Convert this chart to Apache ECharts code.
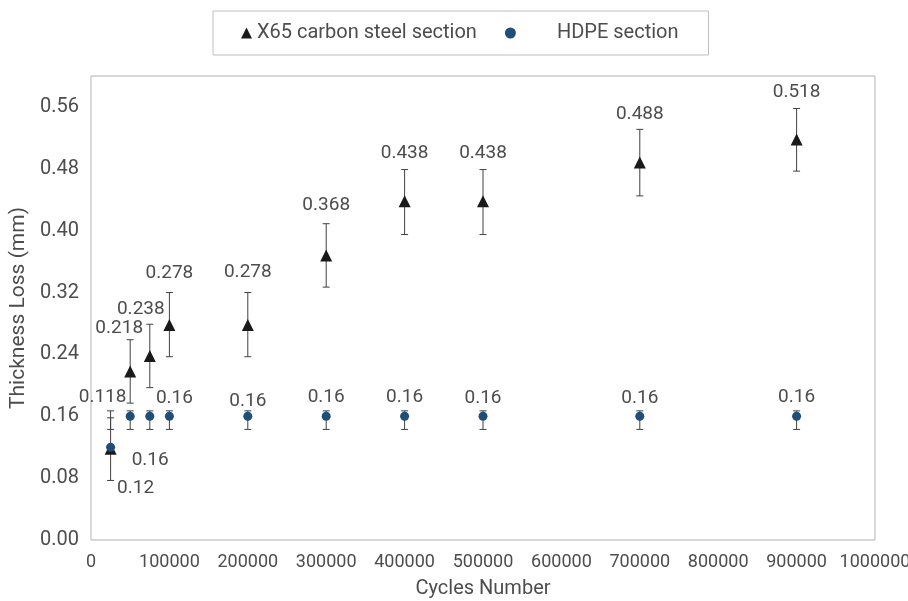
<!DOCTYPE html>
<html>
<head>
<meta charset="utf-8">
<script src="https://cdn.jsdelivr.net/npm/echarts@6/dist/echarts.min.js"></script>
<style>html,body{margin:0;padding:0;background:#fff;}#c{width:908px;height:601px;}</style>
</head>
<body>
<div id="c"></div>
<script>
const cycles = [25000, 50000, 75000, 100000, 200000, 300000, 400000, 500000, 700000, 900000];
const x65 = [0.118, 0.218, 0.238, 0.278, 0.278, 0.368, 0.438, 0.438, 0.488, 0.518];
const x65Low = [0.077, 0.177, 0.197, 0.237, 0.237, 0.327, 0.395, 0.395, 0.445, 0.477];
const x65High = [0.158, 0.259, 0.279, 0.32, 0.32, 0.409, 0.479, 0.479, 0.531, 0.558];
const hdpe = [0.12, 0.16, 0.16, 0.16, 0.16, 0.16, 0.16, 0.16, 0.16, 0.16];
const hdpeLow = [0.143, 0.143, 0.143, 0.143, 0.143, 0.143, 0.143, 0.143, 0.143, 0.143];
const hdpeHigh = [0.167, 0.167, 0.167, 0.167, 0.167, 0.167, 0.167, 0.167, 0.167, 0.167];
const yTicks = [0, 0.08, 0.16, 0.24, 0.32, 0.40, 0.48, 0.56];

// label placement (style)
const x65LabelOffset = [[-8,-51],[-11,-43],[-9,-47],[0,-52],[0,-53],[0,-50],[0,-48],[0,-48],[0,-48],[0,-47]];
const hdpeLabelOffset = [[25,41],[20,44],null,[5,-18],[0,-15],[0,-19],[0,-19],[0,-18],[0,-18],[0,-19]];

const FONT = 'Roboto';
const TXT = '#4d4d4d';

function pointData(vals, offsets) {
  return cycles.map((c, i) => {
    const off = offsets[i];
    return {
      value: [c, vals[i]],
      label: off ? { show: true, offset: off } : { show: false }
    };
  });
}
function errData(lo, hi) {
  return cycles.map((c, i) => [c, lo[i], hi[i]]);
}
function errRender(params, api) {
  const x = api.value(0), lo = api.value(1), hi = api.value(2);
  const a = api.coord([x, lo]), b = api.coord([x, hi]);
  const w = 3.5;
  const st = { stroke: '#404040', lineWidth: 1 };
  return { type: 'group', children: [
    { type: 'line', shape: { x1: a[0], y1: a[1], x2: b[0], y2: b[1] }, style: st },
    { type: 'line', shape: { x1: a[0]-w, y1: a[1], x2: a[0]+w, y2: a[1] }, style: st },
    { type: 'line', shape: { x1: b[0]-w, y1: b[1], x2: b[0]+w, y2: b[1] }, style: st }
  ]};
}

const chart = echarts.init(document.getElementById('c'));
chart.setOption({
  animation: false,
  backgroundColor: '#fff',
  textStyle: { fontFamily: FONT },
  legend: {
    data: [
      { name: 'X65 carbon steel section', icon: 'triangle' },
      { name: 'HDPE section', icon: 'circle' }
    ],
    left: 213, top: 11,
    padding: [12, 30, 12, 28],
    borderColor: '#bfbfbf', borderWidth: 1,
    itemWidth: 11, itemHeight: 11, itemGap: 28,
    textStyle: { fontFamily: FONT, fontSize: 20, color: TXT,
      rich: { p: { fontFamily: FONT, fontSize: 20, color: TXT, padding: [0, 0, 0, 36] } } },
    formatter: n => n === 'HDPE section' ? '{p|' + n + '}' : n
  },
  grid: { left: 91, right: 33, top: 76, bottom: 61, show: true, borderColor: '#b3b3b3', borderWidth: 1,
    outerBoundsMode: 'none', containLabel: false },
  xAxis: {
    type: 'value', min: 0, max: 1000000, interval: 100000,
    name: 'Cycles Number', nameLocation: 'middle', nameGap: 39,
    nameTextStyle: { fontFamily: FONT, fontSize: 20, color: TXT },
    axisLine: { show: false }, axisTick: { show: false }, splitLine: { show: false },
    axisLabel: { fontFamily: FONT, fontSize: 18, color: TXT, margin: 13, formatter: v => String(v) }
  },
  yAxis: {
    type: 'value', min: 0, max: 0.6, interval: 0.08,
    name: 'Thickness Loss (mm)', nameLocation: 'middle', nameGap: 58,
    nameTextStyle: { fontFamily: FONT, fontSize: 21, color: TXT },
    axisLine: { show: false }, axisTick: { show: false }, splitLine: { show: false },
    axisLabel: { fontFamily: FONT, fontSize: 20, color: TXT, margin: 12,
      formatter: v => {
        const t = yTicks.find(k => Math.abs(k - v) < 1e-6);
        return t === undefined ? '' : t.toFixed(2);
      } }
  },
  series: [
    { type: 'custom', name: 'x65err', renderItem: errRender, data: errData(x65Low, x65High),
      encode: { x: 0, y: [1, 2] }, z: 1, silent: true },
    { type: 'custom', name: 'hdpeerr', renderItem: errRender, data: errData(hdpeLow, hdpeHigh),
      encode: { x: 0, y: [1, 2] }, z: 1, silent: true },
    { type: 'scatter', name: 'X65 carbon steel section', symbol: 'triangle', symbolSize: 12,
      itemStyle: { color: '#1a1a1a', opacity: 1 }, z: 3,
      label: { position: 'inside', fontFamily: FONT, fontSize: 19, color: TXT,
        formatter: p => String(p.value[1]) },
      data: pointData(x65, x65LabelOffset) },
    { type: 'scatter', name: 'HDPE section', symbol: 'circle', symbolSize: 9,
      itemStyle: { color: '#1f4e79', opacity: 1 }, z: 4,
      label: { position: 'inside', fontFamily: FONT, fontSize: 19, color: TXT,
        formatter: p => String(p.value[1]) },
      data: pointData(hdpe, hdpeLabelOffset) }
  ]
});
</script>
</body>
</html>
